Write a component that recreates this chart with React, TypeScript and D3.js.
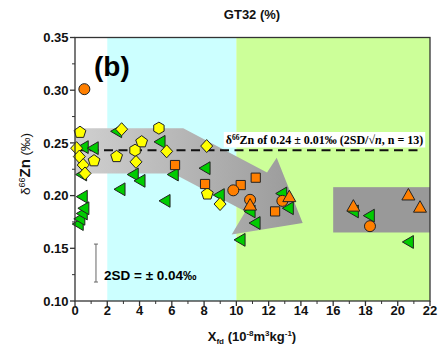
import React, { useEffect, useRef } from "react";
import * as d3 from "d3";

const W = 446;
const H = 350;

// Axis ticks
const xTickValues = [0, 2, 4, 6, 8, 10, 12, 14, 16, 18, 20, 22];
const xTickLabels = ["0", "2", "4", "6", "8", "10", "12", "14", "16", "18", "20", "22"];
const yTickValues = [0.1, 0.15, 0.2, 0.25, 0.3, 0.35];
const yTickLabels = ["0.10", "0.15", "0.20", "0.25", "0.30", "0.35"];

// Background bands (Xfd ranges)
const bandEdges = [0, 2, 10, 22];

// Data series: [Xfd, δ66Zn]
const yellowPentagon: [number, number][] = [
  [0.31, 0.26], [4.13, 0.251], [2.58, 0.237], [1.18, 0.233], [8.2, 0.2015],
];
const yellowDiamond: [number, number][] = [
  [0.1, 0.245], [0.27, 0.237], [0.51, 0.229], [0.62, 0.221], [2.89, 0.263],
  [3.78, 0.232], [5.68, 0.242], [8.16, 0.247], [8.99, 0.192],
];
const yellowHexagon: [number, number][] = [
  [5.2, 0.264], [3.72, 0.243],
];
const greenTriangle: [number, number][] = [
  [0.2, 0.173], [0.3, 0.178], [0.45, 0.183], [0.55, 0.188], [0.45, 0.199],
  [0.41, 0.22], [0.51, 0.246], [1.13, 0.245], [2.58, 0.261], [5.27, 0.251],
  [3.61, 0.22], [4.03, 0.214], [2.79, 0.206], [6.09, 0.22], [8.06, 0.226],
  [5.58, 0.195], [8.94, 0.2005], [10.85, 0.185], [11.16, 0.174], [10.23, 0.158],
  [12.81, 0.202], [13.22, 0.188], [17.25, 0.185], [18.24, 0.181], [20.66, 0.156],
];
const orangeCircle: [number, number][] = [
  [0.58, 0.301], [9.81, 0.205], [10.85, 0.196], [12.85, 0.195], [18.28, 0.171],
];
const orangeSquare: [number, number][] = [
  [6.2, 0.229], [8.06, 0.211], [10.27, 0.21], [11.2, 0.217], [12.4, 0.185],
];
const orangeTriangle: [number, number][] = [
  [10.85, 0.191], [13.28, 0.199], [17.25, 0.19], [20.66, 0.2006], [21.38, 0.189],
];

// Annotation shapes (data space)
const arrowShape: [number, number][] = [
  [0, 0.264], [6.71, 0.264], [11.9, 0.222], [12.5, 0.236], [14.11, 0.174],
  [9.71, 0.163], [10.56, 0.185], [6.09, 0.221], [0, 0.221],
];
const boxShape = { x0: 16, x1: 22, y0: 0.165, y1: 0.208 };
const meanValue = 0.243;
const meanLineEnd = 21.5;
const sdBar = [0.118, 0.154];
const sdBarX = 1.3;

const COLORS = {
  white: "#ffffff",
  cyan: "#ccffff",
  green: "#ccff99",
  yellow: "#ffff00",
  greenMk: "#00cc00",
  orange: "#ff7f00",
  stroke: "#222222",
  axis: "#333333",
};
const bandColors = [COLORS.white, COLORS.cyan, COLORS.green];

function polyPath(pts: [number, number][]) {
  return "M" + pts.map((p) => p[0].toFixed(2) + "," + p[1].toFixed(2)).join("L") + "Z";
}
function regular(n: number, r: number, start: number) {
  const pts: [number, number][] = [];
  for (let k = 0; k < n; k++) {
    const a = ((start + (360 / n) * k) * Math.PI) / 180;
    pts.push([r * Math.cos(a), r * Math.sin(a)]);
  }
  return polyPath(pts);
}
const shapes = {
  pentagon: regular(5, 6.2, -90),
  hexagon: regular(6, 6, -90),
  diamond: polyPath([[0, -6.5], [6, 0], [0, 6.5], [-6, 0]]),
  leftTri: polyPath([[-6, 0], [5, -6.4], [5, 6.4]]),
  upTri: polyPath([[0, -6.5], [6.5, 5], [-6.5, 5]]),
  square: polyPath([[-4.6, -4.6], [4.6, -4.6], [4.6, 4.6], [-4.6, 4.6]]),
};

export default function App() {
  const ref = useRef<SVGSVGElement | null>(null);

  useEffect(() => {
    const svg = d3.select(ref.current);
    svg.selectAll("*").remove();

    const x = d3.scaleLinear().domain([0, 22]).range([75, 430]);
    const y = d3.scaleLinear().domain([0.1, 0.35]).range([301, 37.5]);
    const sans = "'Liberation Sans', Arial, sans-serif";
    const serif = "'Liberation Serif', 'Times New Roman', serif";

    const defs = svg.append("defs");
    const grad = defs.append("linearGradient").attr("id", "arrowGrad")
      .attr("x1", "0").attr("x2", "1").attr("y1", "0").attr("y2", "0");
    grad.append("stop").attr("offset", "0").attr("stop-color", "#d0d0d0");
    grad.append("stop").attr("offset", "1").attr("stop-color", "#999999");

    // background bands
    for (let i = 0; i < bandEdges.length - 1; i++) {
      svg.append("rect")
        .attr("x", x(bandEdges[i])).attr("y", y(0.35))
        .attr("width", x(bandEdges[i + 1]) - x(bandEdges[i]))
        .attr("height", y(0.1) - y(0.35))
        .attr("fill", bandColors[i]);
    }

    // arrow shape
    svg.append("path")
      .attr("d", d3.line()(arrowShape.map((p) => [x(p[0]), y(p[1])]) as [number, number][]) + "Z")
      .attr("fill", "url(#arrowGrad)");
    // gray box
    svg.append("rect")
      .attr("x", x(boxShape.x0)).attr("y", y(boxShape.y1))
      .attr("width", x(boxShape.x1) - x(boxShape.x0))
      .attr("height", y(boxShape.y0) - y(boxShape.y1))
      .attr("fill", "#999999");

    // mean dashed line
    svg.append("line")
      .attr("x1", x(0)).attr("x2", x(meanLineEnd))
      .attr("y1", y(meanValue)).attr("y2", y(meanValue))
      .attr("stroke", "#111").attr("stroke-width", 2)
      .attr("stroke-dasharray", "9,5.5");

    // annotation label
    const labG = svg.append("g");
    const labRect = labG.append("rect").attr("fill", "#fff");
    const lab = labG.append("text")
      .attr("x", 324.5).attr("y", 144)
      .attr("text-anchor", "middle")
      .attr("font-family", serif).attr("font-weight", "bold").attr("font-size", 12)
      .attr("fill", "#000");
    lab.append("tspan").text("δ");
    lab.append("tspan").attr("font-size", 7.5).attr("dy", -4.5).text("66");
    lab.append("tspan").attr("dy", 4.5).text("Zn of 0.24 ± 0.01‰ (2SD/√");
    lab.append("tspan").attr("font-style", "italic").text("n");
    lab.append("tspan").text(", n = 13)");
    const bb = (lab.node() as SVGTextElement).getBBox();
    labRect.attr("x", bb.x - 2).attr("y", bb.y - 0.5).attr("width", bb.width + 4).attr("height", bb.height + 1);

    // markers
    const drawSet = (data: [number, number][], d: string, fill: string) => {
      svg.append("g").selectAll("path").data(data).enter().append("path")
        .attr("d", d)
        .attr("transform", (p) => `translate(${x(p[0])},${y(p[1])})`)
        .attr("fill", fill).attr("stroke", COLORS.stroke).attr("stroke-width", 1)
        .attr("stroke-linejoin", "round");
    };
    drawSet(greenTriangle, shapes.leftTri, COLORS.greenMk);
    drawSet(yellowPentagon, shapes.pentagon, COLORS.yellow);
    drawSet(yellowDiamond, shapes.diamond, COLORS.yellow);
    drawSet(yellowHexagon, shapes.hexagon, COLORS.yellow);
    drawSet(orangeSquare, shapes.square, COLORS.orange);
    svg.append("g").selectAll("circle").data(orangeCircle).enter().append("circle")
      .attr("cx", (p) => x(p[0])).attr("cy", (p) => y(p[1])).attr("r", 5.5)
      .attr("fill", COLORS.orange).attr("stroke", COLORS.stroke).attr("stroke-width", 1);
    drawSet(orangeTriangle, shapes.upTri, COLORS.orange);

    // 2SD bar
    const bx = x(sdBarX);
    svg.append("line").attr("x1", bx).attr("x2", bx).attr("y1", y(sdBar[0])).attr("y2", y(sdBar[1]))
      .attr("stroke", "#666").attr("stroke-width", 1);
    [sdBar[0], sdBar[1]].forEach((v) => {
      svg.append("line").attr("x1", bx - 2).attr("x2", bx + 2).attr("y1", y(v)).attr("y2", y(v))
        .attr("stroke", "#666").attr("stroke-width", 1);
    });
    svg.append("text").attr("x", 104).attr("y", 280)
      .attr("font-family", sans).attr("font-weight", "bold").attr("font-size", 13.5)
      .attr("fill", "#000").text("2SD = ± 0.04‰");

    // (b)
    svg.append("text").attr("x", 94).attr("y", 76)
      .attr("font-family", sans).attr("font-weight", "bold").attr("font-size", 28)
      .attr("fill", "#000").text("(b)");

    // frame
    svg.append("rect").attr("x", x(0)).attr("y", y(0.35))
      .attr("width", x(22) - x(0)).attr("height", y(0.1) - y(0.35))
      .attr("fill", "none").attr("stroke", COLORS.axis).attr("stroke-width", 1.3);

    // y ticks
    yTickValues.forEach((v, i) => {
      svg.append("line").attr("x1", x(0) - 5).attr("x2", x(0)).attr("y1", y(v)).attr("y2", y(v))
        .attr("stroke", COLORS.axis).attr("stroke-width", 1.3);
      svg.append("text").attr("x", 68.5).attr("y", y(v)).attr("dy", "0.36em")
        .attr("text-anchor", "end").attr("font-family", sans).attr("font-weight", "bold")
        .attr("font-size", 13).attr("fill", "#111").text(yTickLabels[i]);
      if (i < yTickValues.length - 1) {
        const m = v + 0.025;
        svg.append("line").attr("x1", x(0) - 3).attr("x2", x(0)).attr("y1", y(m)).attr("y2", y(m))
          .attr("stroke", COLORS.axis).attr("stroke-width", 1);
      }
    });
    // x ticks
    xTickValues.forEach((v, i) => {
      svg.append("line").attr("x1", x(v)).attr("x2", x(v)).attr("y1", y(0.1)).attr("y2", y(0.1) + 5)
        .attr("stroke", COLORS.axis).attr("stroke-width", 1.3);
      svg.append("text").attr("x", x(v)).attr("y", 315)
        .attr("text-anchor", "middle").attr("font-family", sans).attr("font-weight", "bold")
        .attr("font-size", 13).attr("fill", "#111").text(xTickLabels[i]);
      if (i < xTickValues.length - 1) {
        const m = v + 1;
        svg.append("line").attr("x1", x(m)).attr("x2", x(m)).attr("y1", y(0.1)).attr("y2", y(0.1) + 3)
          .attr("stroke", COLORS.axis).attr("stroke-width", 1);
      }
    });

    // title
    svg.append("text").attr("x", 252).attr("y", 19).attr("text-anchor", "middle")
      .attr("font-family", sans).attr("font-weight", "bold").attr("font-size", 13)
      .attr("fill", "#111").text("GT32 (%)");

    // y label
    const yl = svg.append("text")
      .attr("transform", "translate(25,164) rotate(-90)")
      .attr("text-anchor", "middle").attr("dy", "0.35em")
      .attr("font-family", sans).attr("font-size", 13.5).attr("fill", "#111");
    yl.append("tspan").text("δ");
    yl.append("tspan").attr("font-size", 9).attr("dy", -5).text("66");
    yl.append("tspan").attr("font-weight", "bold").attr("font-size", 15).attr("dy", 5).text("Zn");
    yl.append("tspan").text(" (‰)");

    // x label
    const xl = svg.append("text").attr("x", 252).attr("y", 341).attr("text-anchor", "middle")
      .attr("font-family", sans).attr("font-weight", "bold").attr("font-size", 13).attr("fill", "#111");
    xl.append("tspan").text("X");
    xl.append("tspan").attr("font-size", 8).attr("dy", 3).text("fd");
    xl.append("tspan").attr("dy", -3).text(" (10");
    xl.append("tspan").attr("font-size", 8).attr("dy", -5).text("-8");
    xl.append("tspan").attr("dy", 5).text("m");
    xl.append("tspan").attr("font-size", 8).attr("dy", -5).text("3");
    xl.append("tspan").attr("dy", 5).text("kg");
    xl.append("tspan").attr("font-size", 8).attr("dy", -5).text("-1");
    xl.append("tspan").attr("dy", 5).text(")");
  }, []);

  return (
    <svg
      ref={ref}
      width={W}
      height={H}
      style={{ position: "absolute", left: 0, top: 0, background: "#fff" }}
    />
  );
}
